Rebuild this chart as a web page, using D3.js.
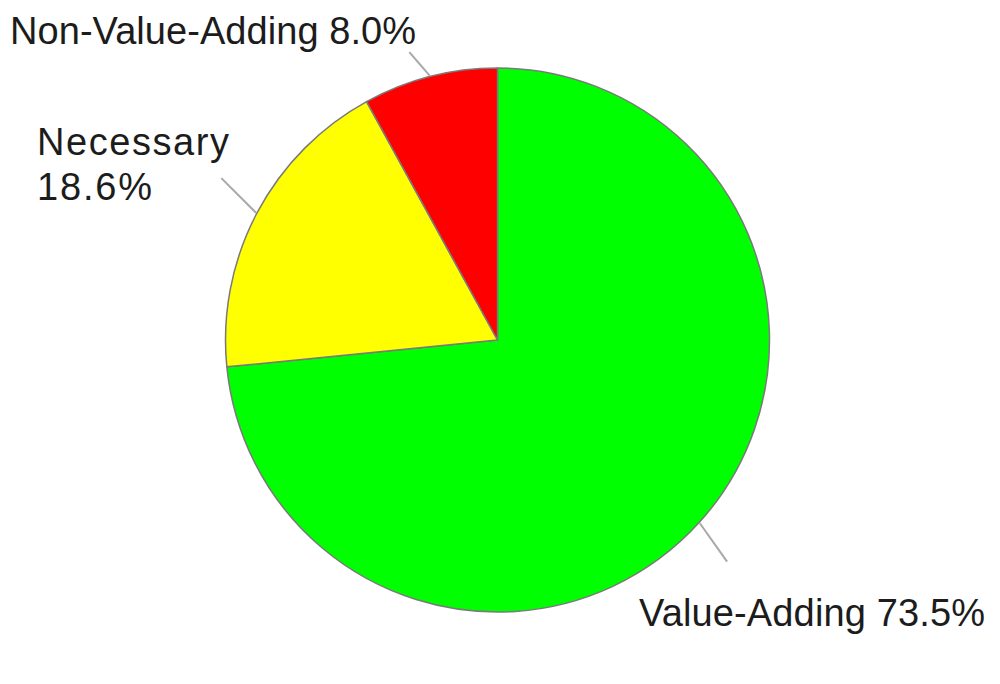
<!DOCTYPE html>
<html><head><meta charset="utf-8">
<script src="https://cdn.jsdelivr.net/npm/d3@7"></script>
<style>html,body{margin:0;padding:0;background:#fff;}svg{display:block;}</style>
</head><body>
<svg id="chart" width="1000" height="684"></svg>
<script>
const categories = ["Value-Adding", "Necessary", "Non-Value-Adding"];
const values = [73.5, 18.6, 8.0];
const colors = ["#00ff00", "#ffff00", "#ff0000"];

const svg = d3.select("#chart");
const cx = 497.5, cy = 340, r = 272;
const g = svg.append("g").attr("transform", `translate(${cx},${cy})`);

const pie = d3.pie().sort(null).value(d => d)(values);
const arc = d3.arc().innerRadius(0).outerRadius(r);

g.selectAll("path.slice").data(pie).join("path")
  .attr("class", "slice")
  .attr("d", arc)
  .attr("fill", (d, i) => colors[i])
  .attr("stroke", "#7a7a7a")
  .attr("stroke-width", 1.5)
  .attr("stroke-linejoin", "round");

// leader lines: start at slice mid-angle on the rim, then go outward
const leaderDir = [144.6, 315, 319].map(a => a * Math.PI / 180);
const leaderLen = [47, 49, 31];
const mid = d => (d.startAngle + d.endAngle) / 2;
g.selectAll("line.leader").data(pie).join("line")
  .attr("class", "leader")
  .attr("x1", d => Math.sin(mid(d)) * (r + 1))
  .attr("y1", d => -Math.cos(mid(d)) * (r + 1))
  .attr("x2", (d, i) => Math.sin(mid(d)) * (r + 1) + Math.sin(leaderDir[i]) * leaderLen[i])
  .attr("y2", (d, i) => -Math.cos(mid(d)) * (r + 1) - Math.cos(leaderDir[i]) * leaderLen[i])
  .attr("stroke", "#a8a8a8")
  .attr("stroke-width", 2);

// labels
const fmt = v => v.toFixed(1) + "%";
const labelG = svg.append("g")
  .attr("font-family", "'Liberation Sans', Arial, sans-serif")
  .attr("font-size", 38)
  .attr("fill", "#1c1c1c");

// Value-Adding
labelG.append("text").attr("x", 639).attr("y", 626)
  .attr("textLength", 346).attr("lengthAdjust", "spacing")
  .text(categories[0] + " " + fmt(values[0]));
// Necessary (two lines)
labelG.append("text").attr("x", 37).attr("y", 155)
  .attr("textLength", 192).attr("lengthAdjust", "spacing")
  .text(categories[1]);
labelG.append("text").attr("x", 37).attr("y", 200)
  .attr("textLength", 115).attr("lengthAdjust", "spacing")
  .text(fmt(values[1]));
// Non-Value-Adding
labelG.append("text").attr("x", 10).attr("y", 44)
  .attr("textLength", 406).attr("lengthAdjust", "spacing")
  .text(categories[2] + " " + fmt(values[2]));
</script>
</body></html>
